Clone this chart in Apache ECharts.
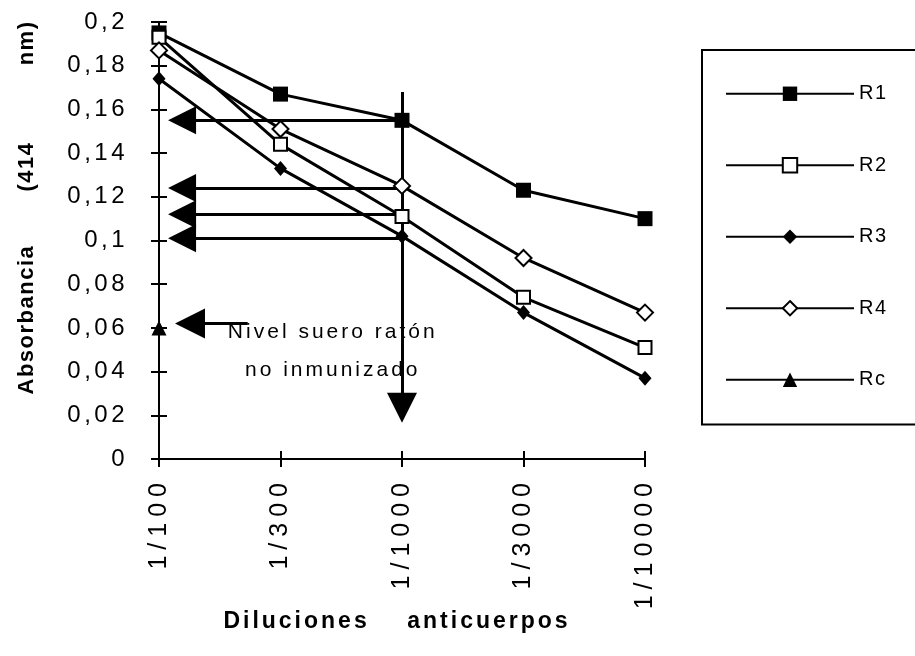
<!DOCTYPE html>
<html>
<head>
<meta charset="utf-8">
<script src="https://cdn.jsdelivr.net/npm/echarts@6.0.0/dist/echarts.min.js"></script>
<style>
html,body{margin:0;padding:0;background:#fff;}
#chart{width:915px;height:656px;}
</style>
</head>
<body>
<div id="chart"></div>
<script>
// ---- data ----
const categories = ['1/100', '1/300', '1/1000', '1/3000', '1/10000'];
const seriesNames = ['R1', 'R2', 'R3', 'R4', 'Rc'];
const r1 = [0.195, 0.167, 0.155, 0.123, 0.110];
const r2 = [0.193, 0.144, 0.111, 0.074, 0.051];
const r3 = [0.174, 0.133, 0.102, 0.067, 0.037];
const r4 = [0.187, 0.151, 0.125, 0.092, 0.067];
const rc = [0.060];
// annotation arrows (x in category index units, y in absorbance)
const arrowLevels = [0.155, 0.124, 0.112, 0.101];
const arrowFromX = 2;
const arrowToX = 0.19;
const nivelArrowY = 0.062;
const nivelArrowFromX = 0.73;
const nivelArrowToX = 0.255;
const vArrowX = 2;
const vArrowFromY = 0.168;
const vArrowToY = 0.0234;
const noteText = 'Nivel suero ratón\nno inmunizado';
const notePos = [1.43, 0.0495];

const FONT = 'Liberation Sans, Arial, Helvetica, sans-serif';

// letter spacing of the original (old Mac-style wide text), applied per font size
const SPACING = {'24n': 3.5, '25n': 6, '21n': 3, '20n': 1.5, '23b': 3, '22b': 1.5};
function spacingFor(font) {
  const m = /(\d+(?:\.\d+)?)px/.exec(font || '');
  if (!m) return 0;
  const key = Math.round(parseFloat(m[1])) + (/bold/.test(font) ? 'b' : 'n');
  return SPACING[key] || 0;
}
(function () {
  const P = CanvasRenderingContext2D.prototype;
  if (!('letterSpacing' in P)) return;
  const mt = P.measureText, ft = P.fillText, st = P.strokeText;
  P.measureText = function (t) { this.letterSpacing = spacingFor(this.font) + 'px'; return mt.call(this, t); };
  P.fillText = function () { this.letterSpacing = spacingFor(this.font) + 'px'; return ft.apply(this, arguments); };
  P.strokeText = function () { this.letterSpacing = spacingFor(this.font) + 'px'; return st.apply(this, arguments); };
})();

const toPairs = arr => arr.map((v, i) => [i, v]);

const chart = echarts.init(document.getElementById('chart'), null, {renderer: 'canvas'});

const lineStyle = {color: '#000', width: 3};
const arrowLines = arrowLevels.map(l => [{coord: [arrowFromX, l]}, {coord: [arrowToX, l]}]);
arrowLines.push([{coord: [nivelArrowFromX, nivelArrowY]}, {coord: [nivelArrowToX, nivelArrowY], symbolSize: 30}]);
arrowLines.push([{coord: [vArrowX, vArrowFromY]}, {coord: [vArrowX, vArrowToY], symbolSize: 30}]);

const xBase = {type: 'value', min: 0, max: 4, interval: 1, splitLine: {show: false}};
const yBase = {type: 'value', min: 0, max: 0.2, interval: 0.02, splitLine: {show: false}};

const option = {
  animation: false,
  backgroundColor: '#fff',
  grid: {left: 159, right: 270, top: 22, bottom: 197, containLabel: false, outerBoundsMode: 'none'},
  xAxis: [
    Object.assign({}, xBase, {
      position: 'bottom',
      axisLine: {show: true, lineStyle: {color: '#000', width: 2}},
      axisTick: {show: true, length: 8, lineStyle: {color: '#000', width: 2}},
      axisLabel: {
        show: true, rotate: 90, margin: 18, color: '#000',
        fontFamily: FONT, fontSize: 25,
        showMinLabel: true, showMaxLabel: true,
        formatter: v => categories[Math.round(v)] || ''
      },
      name: 'Diluciones    anticuerpos',
      nameLocation: 'middle',
      nameGap: 150,
      nameMoveOverlap: false,
      nameTextStyle: {color: '#000', fontFamily: FONT, fontSize: 23, fontWeight: 'bold', padding: [0, 10, 0, 0]}
    }),
    Object.assign({}, xBase, {
      position: 'bottom',
      axisLine: {show: false},
      axisTick: {show: true, inside: true, length: 8, lineStyle: {color: '#000', width: 2}},
      axisLabel: {show: false}
    })
  ],
  yAxis: [
    Object.assign({}, yBase, {
      position: 'left',
      axisLine: {show: true, lineStyle: {color: '#000', width: 2}},
      axisTick: {show: true, length: 8, lineStyle: {color: '#000', width: 2}},
      axisLabel: {
        show: true, margin: 31, color: '#000',
        fontFamily: FONT, fontSize: 24,
        showMinLabel: true, showMaxLabel: true,
        formatter: v => String(Math.round(v * 100) / 100).replace('.', ',')
      },
      name: 'Absorbancia       (414          nm)',
      nameLocation: 'middle',
      nameRotate: 90,
      nameGap: 120,
      nameMoveOverlap: false,
      nameTextStyle: {color: '#000', fontFamily: FONT, fontSize: 22, fontWeight: 'bold', padding: [0, 0, 0, 66]}
    }),
    Object.assign({}, yBase, {
      position: 'left',
      axisLine: {show: false},
      axisTick: {show: true, inside: true, length: 8, lineStyle: {color: '#000', width: 2}},
      axisLabel: {show: false}
    })
  ],
  legend: {
    orient: 'vertical',
    left: 702, top: 50,
    padding: [33, 120, 34, 23],
    borderColor: '#000', borderWidth: 2,
    itemWidth: 128, itemHeight: 18, itemGap: 50,
    textStyle: {color: '#000', fontFamily: FONT, fontSize: 20},
    data: seriesNames,
    selectedMode: false
  },
  series: [
    {
      name: seriesNames[0], type: 'line', data: toPairs(r1),
      symbol: 'rect', symbolSize: 15,
      itemStyle: {color: '#000'}, lineStyle: lineStyle, z: 5,
      markLine: {
        silent: true, animation: false,
        symbol: ['none', 'triangle'], symbolSize: 28,
        lineStyle: {color: '#000', width: 3, type: 'solid'},
        label: {show: false},
        emphasis: {disabled: true},
        data: arrowLines
      },
      markPoint: {
        silent: true, symbol: 'circle', symbolSize: 0,
        label: {show: true, position: 'inside', color: '#000', fontFamily: FONT, fontSize: 21, lineHeight: 38,
          align: 'center', formatter: noteText},
        data: [{coord: notePos}]
      }
    },
    {
      name: seriesNames[1], type: 'line', data: toPairs(r2),
      symbol: 'rect', symbolSize: 13,
      itemStyle: {color: '#fff', borderColor: '#000', borderWidth: 2}, lineStyle: lineStyle, z: 5
    },
    {
      name: seriesNames[2], type: 'line', data: toPairs(r3),
      symbol: 'diamond', symbolSize: [13, 15],
      itemStyle: {color: '#000'}, lineStyle: lineStyle, z: 5
    },
    {
      name: seriesNames[3], type: 'line', data: toPairs(r4),
      symbol: 'diamond', symbolSize: 16,
      itemStyle: {color: '#fff', borderColor: '#000', borderWidth: 2}, lineStyle: lineStyle, z: 5
    },
    {
      name: seriesNames[4], type: 'line', data: toPairs(rc),
      symbol: 'triangle', symbolSize: 15,
      itemStyle: {color: '#000'}, lineStyle: lineStyle, z: 5
    }
  ]
};
chart.setOption(option);
</script>
</body>
</html>
